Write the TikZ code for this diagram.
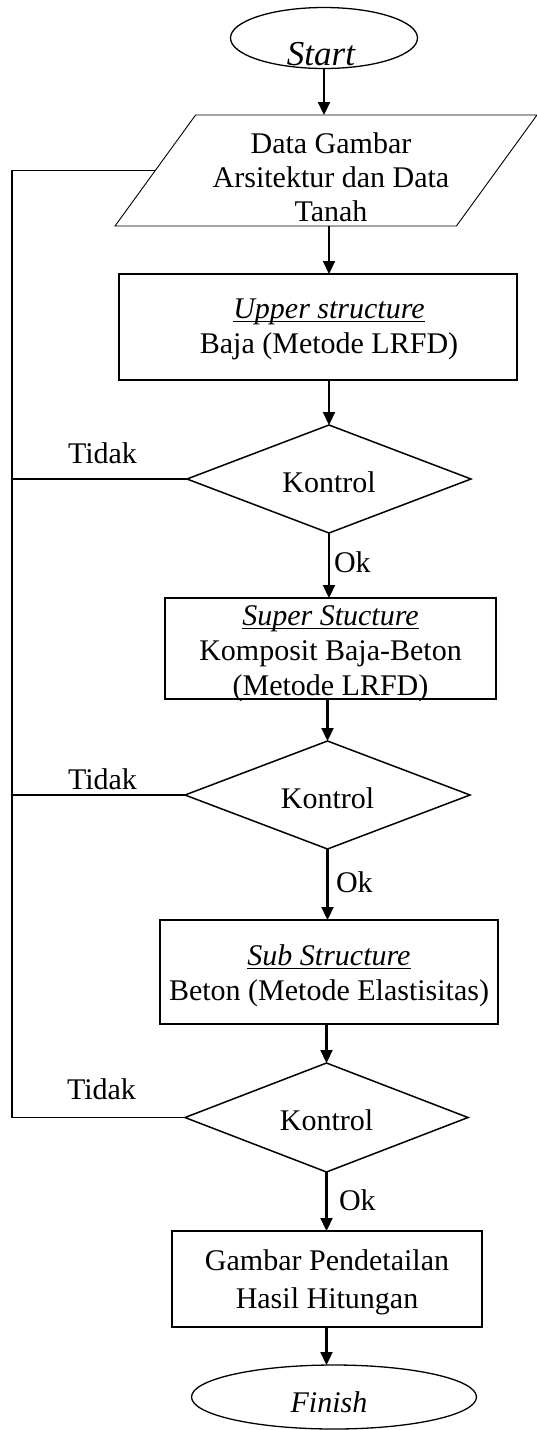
\documentclass[tikz,border=0pt]{standalone}
\usepackage{fontspec}
\setmainfont{Liberation Serif}
\usetikzlibrary{shapes.geometric,arrows.meta,calc}
% underline drawn a fixed distance below the baseline
\newcommand\ulined[1]{\setbox0=\hbox{#1}\rlap{\rule[-4pt]{\wd0}{1.2pt}}\box0}

\begin{document}
\begin{tikzpicture}[x=1pt,y=-1pt,
  every node/.style={inner sep=0pt, outer sep=0pt},
  % multi-line texts are placed by the baseline of their last line
  txt/.style={font=\fontsize{30}{35}\selectfont, anchor=base, align=center},
  lbl/.style={font=\fontsize{30}{35}\selectfont, anchor=base west},
  term/.style={ellipse, draw, line width=1.3pt},
  iobox/.style={rectangle},
  ioline/.style={draw, line width=0.9pt},
  proc/.style={rectangle, draw, line width=1.5pt},
  dec/.style={diamond, draw, line width=1.5pt},
  arr/.style={draw, line width=2.2pt, -{Triangle[length=13pt,width=12pt]}},
  loopline/.style={draw, line width=1.3pt}
]
\useasboundingbox (0,0) rectangle (537,1430);

\coordinate (loop) at (12,0);

% terminals
\node[term, minimum width=187pt, minimum height=61pt] (start) at (324,38) {};
\node[txt, font=\fontsize{35}{40}\selectfont\itshape] (starttxt) at (321,65) {Start};

\node[term, minimum width=285pt, minimum height=64pt] (finish) at (334,1397) {};
\node[txt, font=\fontsize{30}{35}\selectfont\itshape] (finishtxt) at (329,1412) {Finish};

% input data (parallelogram with a slant of 80.6 over its height)
\node[iobox, minimum width=422pt, minimum height=111pt] (para) at (326,170.5) {};
\draw[ioline] (para.south west) -- ($(para.north west)+(80.6,0)$) -- (para.north east)
  -- ($(para.south east)+(-80.6,0)$) -- cycle;
\coordinate (paraleft) at ($(para.west)+(40.3,0)$);
\node[txt] (paratxt) at (331,221) {Data Gambar\\[-1pt]Arsitektur dan Data\\[-1pt]Tanah};

% process boxes
\node[proc, minimum width=398pt, minimum height=106pt] (r1) at (318,327) {};
\node[txt] (r1txt) at (329,353) {\ulined{\itshape Upper structure}\\Baja (Metode LRFD)};

\node[proc, minimum width=331pt, minimum height=101pt] (r2) at (330.5,648.5) {};
\node[txt] (r2txt) at (330.5,695) {\ulined{\itshape Super Stucture}\\Komposit Baja-Beton\\(Metode LRFD)};

\node[proc, minimum width=338pt, minimum height=104pt] (r3) at (329,972) {};
\node[txt] (r3txt) at (329,1000) {\ulined{\itshape Sub Structure}\\Beton (Metode Elastisitas)};

\node[proc, minimum width=310pt, minimum height=96pt] (r4) at (327,1279) {};
\node[txt] (r4txt) at (327,1308) {Gambar Pendetailan\\[2.5pt]Hasil Hitungan};

% decisions
\node[dec, minimum width=284pt, minimum height=108pt] (d1) at (329,479) {};
\node[txt] (d1txt) at (329,492) {Kontrol};
\node[dec, minimum width=285pt, minimum height=108pt] (d2) at (327.5,795) {};
\node[txt] (d2txt) at (327.5,808) {Kontrol};
\node[dec, minimum width=283pt, minimum height=109pt] (d3) at (326.5,1117.5) {};
\node[txt] (d3txt) at (326.5,1130) {Kontrol};

% main flow
\draw[arr] (start.south) -- (start.south |- para.north);
\draw[arr] (para.south -| d1.north) -- (r1.north -| d1.north);
\draw[arr] (r1.south -| d1.north) -- (d1.north);
\draw[arr] (d1.south) -- (d1.south |- r2.north);
\draw[arr] (r2.south -| d2.north) -- (d2.north);
\draw[arr] (d2.south) -- (d2.south |- r3.north);
\draw[arr] (r3.south -| d3.north) -- (d3.north);
\draw[arr] (d3.south) -- (d3.south |- r4.north);
\draw[arr] (r4.south -| d3.south) -- (finish.north -| d3.south);

% return path for failed checks
\draw[loopline] (d3.west) -- (d3.west -| loop) -- (loop |- paraleft) -- (paraleft);
\draw[loopline] (d1.west) -- (d1.west -| loop);
\draw[loopline] (d2.west) -- (d2.west -| loop);

% branch labels
\node[lbl] (no1) at (68,463) {Tidak};
\node[lbl] (no2) at (68,789) {Tidak};
\node[lbl] (no3) at (67,1099) {Tidak};
\node[lbl] (ok1) at (334,572) {Ok};
\node[lbl] (ok2) at (336,892) {Ok};
\node[lbl] (ok3) at (339,1210) {Ok};
\end{tikzpicture}
\end{document}
